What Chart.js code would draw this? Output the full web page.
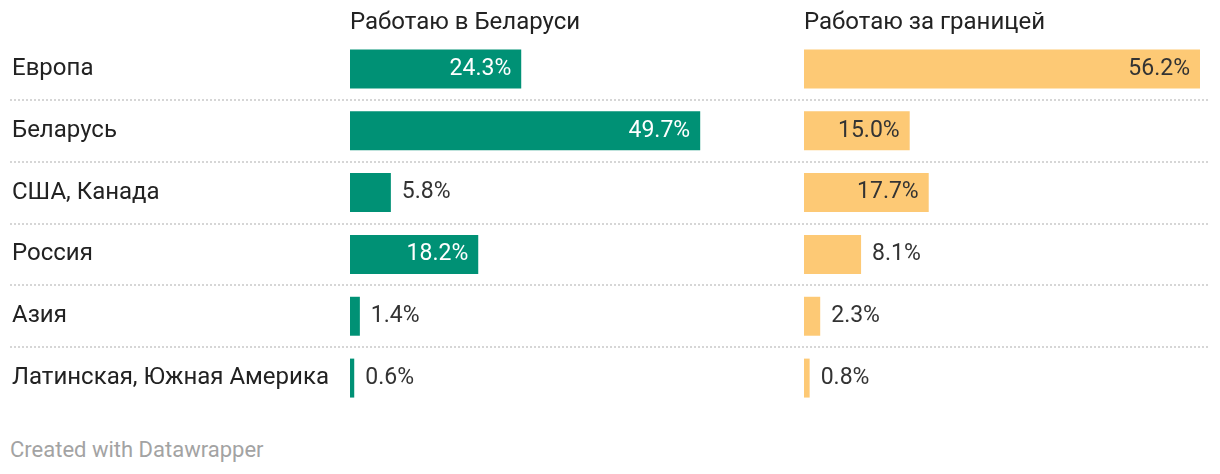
<!DOCTYPE html>
<html>
<head>
<meta charset="utf-8">
<script src="https://cdn.jsdelivr.net/npm/chart.js@4/dist/chart.umd.min.js"></script>
<style>
  html, body { margin: 0; padding: 0; background: #fff; }
  body { width: 1220px; height: 474px; position: relative; overflow: hidden; font-family: Roboto, sans-serif; }
  #cA { position: absolute; left: 0; top: 0; }
  #cB { position: absolute; left: 760px; top: 0; }
  #foot { position: absolute; left: 10px; top: 436px; font-size: 22px; line-height: 28px; color: #a3a3a3; font-family: Roboto, sans-serif; }
</style>
</head>
<body>
<canvas id="cA" width="1220" height="409"></canvas>
<canvas id="cB" width="460" height="409"></canvas>
<div id="foot">Created with Datawrapper</div>
<script>
const categories = ['Европа', 'Беларусь', 'США, Канада', 'Россия', 'Азия', 'Латинская, Южная Америка'];
const inBelarus = [24.3, 49.7, 5.8, 18.2, 1.4, 0.6];
const abroad = [56.2, 15.0, 17.7, 8.1, 2.3, 0.8];
const seriesTitles = ['Работаю в Беларуси', 'Работаю за границей'];

const GREEN = '#009175';
const YELLOW = '#fdc975';
const TEXT = '#222222';
const FONT = 'Roboto';
const MAX = Math.max(...inBelarus, ...abroad);

function valueLabels(insideColor) {
  return {
    id: 'valueLabels',
    afterDatasetsDraw(chart) {
      const ctx = chart.ctx;
      const meta = chart.getDatasetMeta(0);
      const ds = chart.data.datasets[0].data;
      ctx.save();
      ctx.font = '23px ' + FONT;
      ctx.textBaseline = 'middle';
      meta.data.forEach((el, i) => {
        const txt = ds[i].toFixed(1) + '%';
        const w = ctx.measureText(txt).width;
        const bw = el.x - el.base;
        if (bw > w + 20) {
          ctx.fillStyle = insideColor;
          ctx.textAlign = 'right';
          ctx.fillText(txt, el.x - 10, el.y);
        } else {
          ctx.fillStyle = '#333333';
          ctx.textAlign = 'left';
          ctx.fillText(txt, el.x + 11, el.y);
        }
      });
      ctx.restore();
    }
  };
}

const separators = {
  id: 'separators',
  beforeDatasetsDraw(chart) {
    const ctx = chart.ctx;
    const y = chart.scales.y;
    ctx.save();
    ctx.strokeStyle = '#d6d6d6';
    ctx.lineWidth = 2;
    ctx.setLineDash([2, 2]);
    for (let i = 0; i < categories.length - 1; i++) {
      const py = Math.round((y.getPixelForValue(i) + y.getPixelForValue(i + 1)) / 2);
      ctx.beginPath();
      ctx.moveTo(10, py);
      ctx.lineTo(1208, py);
      ctx.stroke();
    }
    ctx.restore();
  }
};

function xAxis(title) {
  return {
    position: 'top',
    min: 0,
    max: MAX,
    grid: { display: false },
    border: { display: false },
    ticks: { display: false },
    title: {
      display: true,
      text: title,
      align: 'start',
      color: TEXT,
      font: { family: FONT, size: 24 },
      padding: { top: 9, bottom: 0 }
    },
    afterFit(scale) { scale.height = 38; scale.paddingLeft = 0; scale.paddingRight = 0; }
  };
}

new Chart(document.getElementById('cA'), {
  type: 'bar',
  data: {
    labels: categories,
    datasets: [{ data: inBelarus, backgroundColor: GREEN, barPercentage: 0.63, categoryPercentage: 1 }]
  },
  options: {
    responsive: false,
    animation: false,
    indexAxis: 'y',
    layout: { padding: { left: 12, right: 474, top: 0, bottom: 0 } },
    plugins: { legend: { display: false }, tooltip: { enabled: false } },
    scales: {
      x: xAxis(seriesTitles[0]),
      y: {
        grid: { display: false },
        border: { display: false },
        ticks: { color: TEXT, font: { family: FONT, size: 24 }, crossAlign: 'far', padding: 0 },
        afterFit(scale) { scale.width = 338; scale.paddingTop = 0; scale.paddingBottom = 0; }
      }
    }
  },
  plugins: [separators, valueLabels('#ffffff')]
});

new Chart(document.getElementById('cB'), {
  type: 'bar',
  data: {
    labels: categories,
    datasets: [{ data: abroad, backgroundColor: YELLOW, barPercentage: 0.63, categoryPercentage: 1 }]
  },
  options: {
    responsive: false,
    animation: false,
    indexAxis: 'y',
    layout: { padding: { left: 44, right: 20, top: 0, bottom: 0 } },
    plugins: { legend: { display: false }, tooltip: { enabled: false } },
    scales: {
      x: xAxis(seriesTitles[1]),
      y: { display: false }
    }
  },
  plugins: [valueLabels('#333333')]
});
</script>
</body>
</html>
